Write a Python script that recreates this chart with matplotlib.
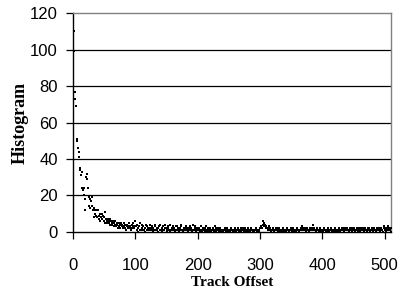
import numpy as np
import matplotlib.pyplot as plt

# histogram counts per track offset
head = [99, 110, 77, 73, 69, 51, 50, 46, 44, 41,      # 1-10
        35, 34, 31, 24, 33, 23, 20, 24, 18, 12,       # 11-20
        30, 32, 29, 24, 19, 14, 18, 13, 17, 14,       # 21-30
        19, 12, 13, 8, 12, 10, 9, 12, 8, 12,          # 31-40
        7, 9, 10, 6, 8, 7, 10, 9, 6, 8,               # 41-50
        5, 11, 7, 6, 5, 7, 6, 5, 7, 4,                # 51-60
        6, 5, 4, 6, 3, 5, 4, 6, 3, 5,                 # 61-70
        4, 2, 5, 3, 4, 2, 5, 3, 4, 2,                 # 71-80
        3, 5, 2, 4, 1, 3, 4, 2, 3, 5,                 # 81-90
        2, 3, 1, 4, 2, 3, 5, 2, 6, 3]                 # 91-100
tail = [3, 1, 4, 0, 2, 3, 1, 5, 1, 4, 2, 1, 3, 1, 2, 0, 4, 1, 3, 2,   # 101-120
        1, 2, 4, 1, 2, 1, 3, 0, 2, 1, 4, 3, 1, 2, 1, 0, 2, 3, 1, 4,   # 121-140
        1, 2, 0, 1, 3, 1, 2, 4, 2, 0, 1, 2, 3, 1, 0, 4, 1, 2, 1, 3,   # 141-160
        1, 2, 0, 1, 3, 1, 3, 2, 1, 0, 2, 1, 4, 3, 1, 0, 1, 2, 1, 2,   # 161-180
        3, 1, 2, 0, 1, 2, 1, 3, 1, 2, 0, 1, 4, 1, 2, 3, 1, 0, 2, 1,   # 181-200
        1, 2, 0, 1, 3, 1, 0, 1, 2, 1, 0, 2, 3, 1, 0, 2, 1, 0, 1, 2,   # 201-220
        1, 0, 1, 2, 1, 0, 3, 1, 2, 0, 1, 2, 1, 0, 1, 2, 1, 0, 1, 1,   # 221-240
        0, 1, 2, 1, 0, 1, 2, 1, 0, 1, 1, 0, 1, 2, 1, 0, 1, 1, 0, 2,   # 241-260
        1, 0, 1, 2, 1, 0, 1, 1, 2, 0, 1, 2, 1, 0, 1, 2, 1, 0, 1, 2,   # 261-280
        0, 1, 1, 0, 1, 2, 1, 0, 1, 1, 0, 1, 2, 1, 0, 1, 1, 0, 1, 2,   # 281-300
        2, 3, 2, 4, 6, 5, 3, 4, 2, 3, 2, 1, 2, 3, 1, 2, 1, 0, 1, 2,   # 301-320
        1, 0, 1, 1, 2, 1, 2, 0, 1, 2, 1, 0, 1, 1, 0, 1, 2, 1, 0, 1,   # 321-340
        1, 0, 1, 2, 1, 0, 1, 1, 2, 1, 0, 1, 2, 1, 0, 1, 1, 0, 1, 2,   # 341-360
        1, 0, 1, 1, 2, 1, 2, 3, 1, 2, 1, 2, 1, 0, 1, 2, 1, 0, 1, 2,   # 361-380
        1, 2, 1, 2, 4, 1, 2, 1, 0, 1, 2, 1, 1, 0, 1, 2, 1, 0, 1, 1,   # 381-400
        0, 1, 2, 1, 0, 1, 1, 0, 2, 1, 0, 1, 1, 2, 0, 1, 1, 0, 1, 2,   # 401-420
        1, 0, 1, 1, 0, 1, 2, 1, 0, 1, 2, 1, 1, 2, 0, 1, 2, 1, 1, 2,   # 421-440
        1, 0, 1, 2, 1, 2, 0, 1, 2, 1, 2, 1, 0, 1, 2, 1, 0, 2, 1, 1,   # 441-460
        0, 2, 1, 1, 2, 1, 0, 1, 2, 1, 1, 0, 2, 1, 2, 1, 0, 1, 2, 1,   # 461-480
        0, 1, 2, 1, 1, 0, 2, 1, 1, 2, 1, 0, 1, 2, 1, 1, 0, 2, 3, 2,   # 481-500
        1, 0, 2, 1, 2, 3, 1, 2, 1, 0, 2]                              # 501-511
values = head + tail
offsets = np.arange(1, len(values) + 1)

yticks = [0, 20, 40, 60, 80, 100, 120]
xticks = [0, 100, 200, 300, 400, 500]

fig = plt.figure(figsize=(4.02, 2.97), dpi=100)
ax = fig.add_axes([0.1816, 0.219, 0.7910, 0.737])

for y in yticks[1:-1]:
    ax.axhline(y, color='black', lw=0.9, zorder=1)

ax.plot(offsets, values, 's', color='black', markersize=1.9, markeredgewidth=0, zorder=3)

ax.set_xlim(0, 510)
ax.set_ylim(0, 120)
ax.set_xticks(xticks)
ax.set_yticks(yticks)

ax.spines['top'].set_color('#808080')
ax.spines['right'].set_color('#808080')
for s in ['left', 'bottom']:
    ax.spines[s].set_color('black')
for s in ax.spines.values():
    s.set_linewidth(1.0)

ax.tick_params(direction='out', length=5, width=0.9, color='black', labelsize=12)
ax.tick_params(axis='x', pad=14)
ax.tick_params(axis='y', pad=6)
for lab in ax.get_xticklabels() + ax.get_yticklabels():
    lab.set_family('Liberation Sans')

ax.set_xlabel('Track Offset', family='Liberation Serif', fontweight='bold',
              fontsize=11, labelpad=2)
ax.set_ylabel('Histogram', family='Liberation Serif', fontweight='bold',
              fontsize=13, labelpad=1)

fig.savefig('out.png', dpi=100)
